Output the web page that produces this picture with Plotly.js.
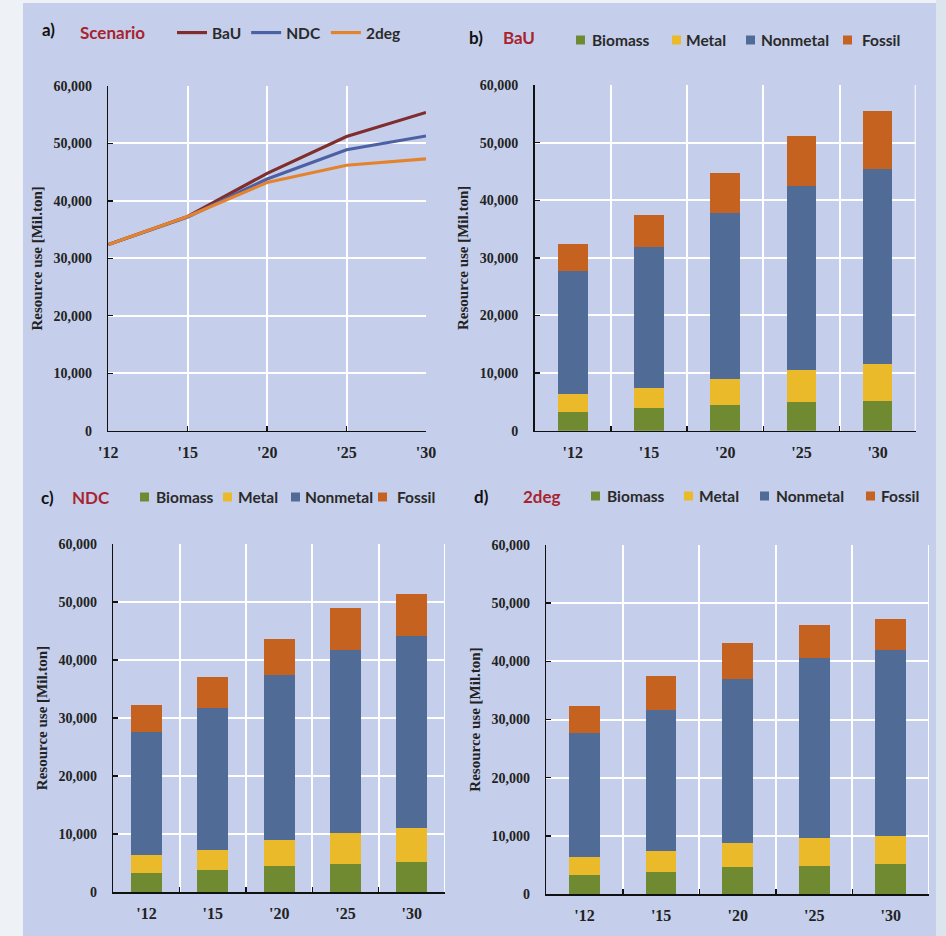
<!DOCTYPE html>
<html><head><meta charset="utf-8">
<script src="https://cdn.plot.ly/plotly-3.0.1.min.js"></script>
<style>html,body{margin:0;padding:0;background:#eef2f7;} #chart{width:946px;height:936px;}</style>
</head><body><div id="chart"></div>
<script>
// ---- data ----
const years = ["'12", "'15", "'20", "'25", "'30"];
const scenarios = ["BaU", "NDC", "2deg"];
const totalBaU = [32400, 37300, 44800, 51200, 55400];
const totalNDC = [32400, 37200, 43800, 48900, 51300];
const total2deg = [32400, 37300, 43200, 46200, 47300];
const components = ["Biomass", "Metal", "Nonmetal", "Fossil"];
const bauBiomass = [3200, 3900, 4500, 5000, 5100];
const bauMetal = [3200, 3500, 4500, 5600, 6500];
const bauNonmetal = [21400, 24400, 28700, 31900, 33900];
const bauFossil = [4600, 5600, 7100, 8700, 10000];
const ndcBiomass = [3200, 3800, 4500, 4900, 5200];
const ndcMetal = [3100, 3500, 4500, 5300, 5900];
const ndcNonmetal = [21300, 24400, 28400, 31600, 33000];
const ndcFossil = [4700, 5400, 6300, 7100, 7200];
const degBiomass = [3300, 3800, 4600, 4900, 5100];
const degMetal = [3000, 3650, 4200, 4800, 4900];
const degNonmetal = [21300, 24150, 28200, 30900, 31900];
const degFossil = [4800, 5800, 6200, 5600, 5400];

// ---- styles ----
const W = 946, H = 936;
const px = x => x / W, py = y => 1 - y / H;
const lineColors = ["#7f2d2d", "#4c61a3", "#e4832e"];
const barColors = ["#6f8a30", "#ebba2a", "#506b95", "#c6621f"];
const red = "#a8232f";
const serif = "Liberation Serif, Times New Roman, serif";
const sans = "Lato, Carlito, Calibri, sans-serif";

const traces = [];
const lineData = [totalBaU, totalNDC, total2deg];
scenarios.forEach((s, i) => {
  traces.push({type: "scatter", mode: "lines", x: years, y: lineData[i], name: s,
    xaxis: "x", yaxis: "y", line: {color: lineColors[i], width: 3.2}, legend: "legend"});
});
const barSets = [
  {xa: "x2", ya: "y2", vals: [bauBiomass, bauMetal, bauNonmetal, bauFossil], w: 0.39},
  {xa: "x3", ya: "y3", vals: [ndcBiomass, ndcMetal, ndcNonmetal, ndcFossil], w: 0.47},
  {xa: "x4", ya: "y4", vals: [degBiomass, degMetal, degNonmetal, degFossil], w: 0.40}
];
barSets.forEach(bs => {
  components.forEach((c, i) => {
    traces.push({type: "bar", x: years, y: bs.vals[i], name: c, xaxis: bs.xa, yaxis: bs.ya,
      marker: {color: barColors[i], line: {width: 0}}, width: bs.w, showlegend: false});
  });
});

function xAx(domain, anchor, isBar) {
  const a = {domain: domain, anchor: anchor, type: "category",
    range: isBar ? [-0.5, 4.5] : [0, 4],
    showgrid: true, gridcolor: "#ffffff", gridwidth: 2,
    showline: true, linecolor: "#111", linewidth: 1.6,
    ticks: "inside", ticklen: 5, tickcolor: "#111", tickwidth: 1.4,
    ticklabelstandoff: 6,
    tickfont: {family: serif, size: 16, color: "#222", weight: 700},
    zeroline: false, fixedrange: true};
  if (isBar) a.tickson = "boundaries";
  return a;
}
function yAx(domain, anchor) {
  return {domain: domain, anchor: anchor, range: [0, 60000], tick0: 0, dtick: 10000,
    tickformat: ",d", showgrid: true, gridcolor: "#ffffff", gridwidth: 2,
    showline: true, linecolor: "#111", linewidth: 1.6,
    ticks: "inside", ticklen: 5, tickcolor: "#111", tickwidth: 1.4,
    ticklabelstandoff: 12,
    tickfont: {family: serif, size: 14, color: "#222", weight: 700},
    zeroline: false, fixedrange: true,
    title: {text: "Resource use [Mil.ton]", standoff: 7,
      font: {family: serif, size: 15, color: "#222", weight: 700}}};
}

const shapes = [
  {type: "rect", xref: "paper", yref: "paper", x0: px(23), x1: px(936), y0: 0, y1: py(3),
    fillcolor: "#c5cfeb", line: {width: 0}, layer: "below"},
  {type: "rect", xref: "paper", yref: "paper", x0: px(936), x1: 1, y0: 0, y1: 1,
    fillcolor: "#dce5ee", line: {width: 0}, layer: "below"}
];
// white right border of each bar plot area
["x2", "x3", "x4"].forEach((xa, k) => {
  shapes.push({type: "line", xref: xa, yref: "y" + (k + 2) + " domain", x0: 4.5, x1: 4.5, y0: 0, y1: 1,
    line: {color: "#ffffff", width: 2}, layer: "below"});
});
const annotations = [];
function label(x, y, text, color, size, anchor) {
  annotations.push({xref: "paper", yref: "paper", x: px(x), y: py(y), text: text, showarrow: false,
    xanchor: anchor || "left", yanchor: "middle",
    font: {family: sans, size: size, color: color, weight: 700}});
}
label(40, 30, "a)", "#111", 17);
label(78, 33, "Scenario", red, 17);
label(467, 38, "b)", "#111", 17);
label(501, 38, "BaU", red, 17);
label(39, 497, "c)", "#111", 17);
label(70, 497, "NDC", red, 17);
label(472, 496, "d)", "#111", 17);
label(521, 496, "2deg", red, 17);

// manual legends for the bar panels
const legendPos = [
  {y: 40, sx: [576, 672, 746, 843], tx: [590, 684, 759, 860]},
  {y: 497, sx: [140, 223, 291, 378], tx: [154, 236, 303, 395]},
  {y: 496, sx: [591, 684, 760, 866], tx: [605, 697, 774, 879]}
];
legendPos.forEach(lp => {
  components.forEach((c, i) => {
    shapes.push({type: "rect", xref: "paper", yref: "paper",
      x0: px(lp.sx[i]), x1: px(lp.sx[i] + 9), y0: py(lp.y + 4.5), y1: py(lp.y - 4.5),
      fillcolor: barColors[i], line: {width: 0}});
    label(lp.tx[i], lp.y, c, "#2a2a2a", 15.5);
  });
});

const layout = {
  width: W, height: H, margin: {l: 0, r: 0, t: 0, b: 0},
  paper_bgcolor: "#eef2f7", plot_bgcolor: "rgba(0,0,0,0)",
  showlegend: true,
  legend: {orientation: "h", traceorder: "normal", x: px(172), y: py(33), xanchor: "left", yanchor: "middle",
    bgcolor: "rgba(0,0,0,0)", itemwidth: 30, font: {family: sans, size: 15.5, color: "#2a2a2a", weight: 700}},
  xaxis: xAx([px(108.3), px(426)], "y", false),
  yaxis: yAx([py(430.7), py(86)], "x"),
  xaxis2: xAx([px(534.7), px(915.7)], "y2", true),
  yaxis2: yAx([py(430.7), py(85)], "x2"),
  xaxis3: xAx([px(113.3), px(445)], "y3", true),
  yaxis3: yAx([py(892), py(544)], "x3"),
  xaxis4: xAx([px(546.3), px(929)], "y4", true),
  yaxis4: yAx([py(894), py(545)], "x4"),
  barmode: "stack",
  shapes: shapes, annotations: annotations
};
Plotly.newPlot("chart", traces, layout, {staticPlot: true, displayModeBar: false});
</script></body></html>
